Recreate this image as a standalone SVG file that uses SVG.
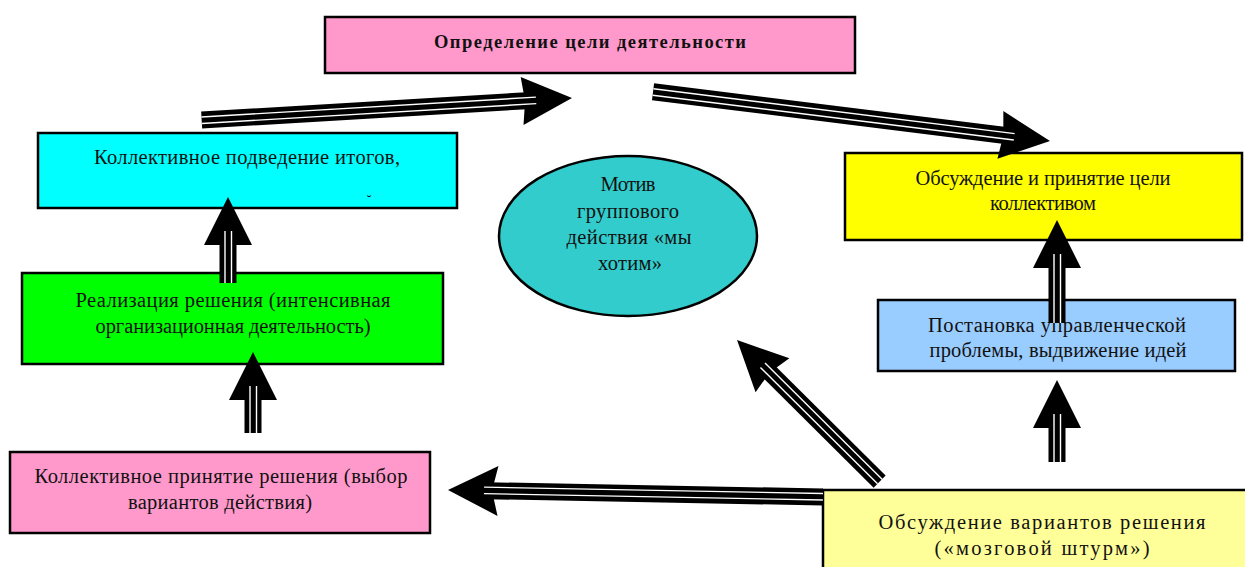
<svg xmlns="http://www.w3.org/2000/svg" width="1245" height="567" viewBox="0 0 1245 567">
<style>
.box{stroke:#000;stroke-width:2.5}
.t{font-family:"Liberation Serif","Times New Roman",serif;font-size:20.5px;fill:#111;text-anchor:middle}
.tb{font-weight:bold;font-size:18.5px}
.sh{fill:#000}
.wl{stroke:#fff;stroke-width:1.4}
.hd{fill:#000}
</style>
<rect width="1245" height="567" fill="#fff"/>
<g id="node-goal">
<rect class="box" x="325" y="17" width="530" height="56" fill="#FF99CC"/>
<text class="t tb" x="590" y="48" textLength="312" lengthAdjust="spacing">Определение цели деятельности</text>
</g>
<g id="node-summary">
<rect class="box" x="38" y="133" width="419" height="75" fill="#00FFFF"/>
<text class="t" x="247" y="164" textLength="306" lengthAdjust="spacing">Коллективное подведение итогов,</text>
<text class="t" x="369" y="205" style="font-size:14px">˘</text>
</g>
<g id="node-motive">
<ellipse class="box" cx="628" cy="236" rx="129" ry="80" fill="#33CCCC"/>
<text class="t" x="628" y="191" textLength="55" lengthAdjust="spacing">Мотив</text>
<text class="t" x="628" y="218" textLength="102" lengthAdjust="spacing">группового</text>
<text class="t" x="629" y="244" textLength="125" lengthAdjust="spacing">действия «мы</text>
<text class="t" x="630" y="270" textLength="64" lengthAdjust="spacing">хотим»</text>
</g>
<g id="node-accept-goal">
<rect class="box" x="845" y="153" width="397" height="87" fill="#FFFF00"/>
<text class="t" x="1043" y="185" textLength="255" lengthAdjust="spacing">Обсуждение и принятие цели</text>
<text class="t" x="1043" y="210" textLength="106" lengthAdjust="spacing">коллективом</text>
</g>
<g id="node-realization">
<rect class="box" x="22" y="273" width="421" height="91" fill="#00FF00"/>
<text class="t" x="233" y="307" textLength="315" lengthAdjust="spacing">Реализация решения (интенсивная</text>
<text class="t" x="233" y="333" textLength="275" lengthAdjust="spacing">организационная деятельность)</text>
</g>
<g id="node-problem">
<rect class="box" x="878" y="300" width="357" height="71" fill="#99CCFF"/>
<text class="t" x="1057" y="332" textLength="258" lengthAdjust="spacing">Постановка управленческой</text>
<text class="t" x="1058" y="357" textLength="257" lengthAdjust="spacing">проблемы, выдвижение идей</text>
</g>
<g id="node-decision">
<rect class="box" x="10" y="452" width="420" height="81" fill="#FF99CC"/>
<text class="t" x="221" y="483" textLength="373" lengthAdjust="spacing">Коллективное принятие решения (выбор</text>
<text class="t" x="220" y="509" textLength="184" lengthAdjust="spacing">вариантов действия)</text>
</g>
<g id="node-brainstorm">
<rect class="box" x="823" y="490" width="430" height="90" fill="#FFFF99"/>
<text class="t" x="1042" y="529" textLength="327" lengthAdjust="spacing">Обсуждение вариантов решения</text>
<text class="t" x="1042" y="555" textLength="215" lengthAdjust="spacing">(«мозговой штурм»)</text>
</g>
<g id="connectors">
<g transform="translate(572,98) rotate(-3.4)">
<rect class="sh" x="-371" y="-8.5" width="330" height="17"/>
<polygon class="hd" points="0,0 -50,-24 -47,0 -50,24"/>
<line class="wl" x1="-371" y1="-3" x2="-36" y2="-3"/><line class="wl" x1="-371" y1="3.5" x2="-36" y2="3.5"/>
</g>
<g transform="translate(1050,141) rotate(7.07)">
<rect class="sh" x="-400" y="-8.5" width="359" height="17"/>
<polygon class="hd" points="0,0 -50,-24 -47,0 -50,24"/>
<line class="wl" x1="-400" y1="-3" x2="-36" y2="-3"/><line class="wl" x1="-400" y1="3.5" x2="-36" y2="3.5"/>
</g>
<g transform="translate(228,197) rotate(-90)">
<rect class="sh" x="-86" y="-8.5" width="45" height="17"/>
<polygon class="hd" points="0,0 -48,-24 -48,24"/>
<line class="wl" x1="-86" y1="-3" x2="-34" y2="-3"/><line class="wl" x1="-86" y1="3.5" x2="-34" y2="3.5"/>
</g>
<g transform="translate(253,352) rotate(-90)">
<rect class="sh" x="-81" y="-8.5" width="40" height="17"/>
<polygon class="hd" points="0,0 -48,-24 -48,24"/>
<line class="wl" x1="-81" y1="-3" x2="-34" y2="-3"/><line class="wl" x1="-81" y1="3.5" x2="-34" y2="3.5"/>
</g>
<g transform="translate(448,490) rotate(181.07)">
<rect class="sh" x="-375" y="-8.5" width="335" height="17"/>
<polygon class="hd" points="0,0 -50,-25 -44,0 -50,25"/>
<line class="wl" x1="-375" y1="-3" x2="-36" y2="-3"/><line class="wl" x1="-375" y1="3.5" x2="-36" y2="3.5"/>
</g>
<g transform="translate(737,340) rotate(-135.2)">
<rect class="sh" x="-201" y="-8.5" width="160" height="17"/>
<polygon class="hd" points="0,0 -50,-24 -46,0 -50,24"/>
<line class="wl" x1="-201" y1="-3" x2="-36" y2="-3"/><line class="wl" x1="-201" y1="3.5" x2="-36" y2="3.5"/>
</g>
<g transform="translate(1057,220) rotate(-90)">
<rect class="sh" x="-103" y="-8.5" width="62" height="17"/>
<polygon class="hd" points="0,0 -48,-24 -48,24"/>
<line class="wl" x1="-103" y1="-3" x2="-34" y2="-3"/><line class="wl" x1="-103" y1="3.5" x2="-34" y2="3.5"/>
</g>
<g transform="translate(1057,380) rotate(-90)">
<rect class="sh" x="-82" y="-8.5" width="41" height="17"/>
<polygon class="hd" points="0,0 -48,-24 -48,24"/>
<line class="wl" x1="-82" y1="-3" x2="-34" y2="-3"/><line class="wl" x1="-82" y1="3.5" x2="-34" y2="3.5"/>
</g>
</g>
</svg>
